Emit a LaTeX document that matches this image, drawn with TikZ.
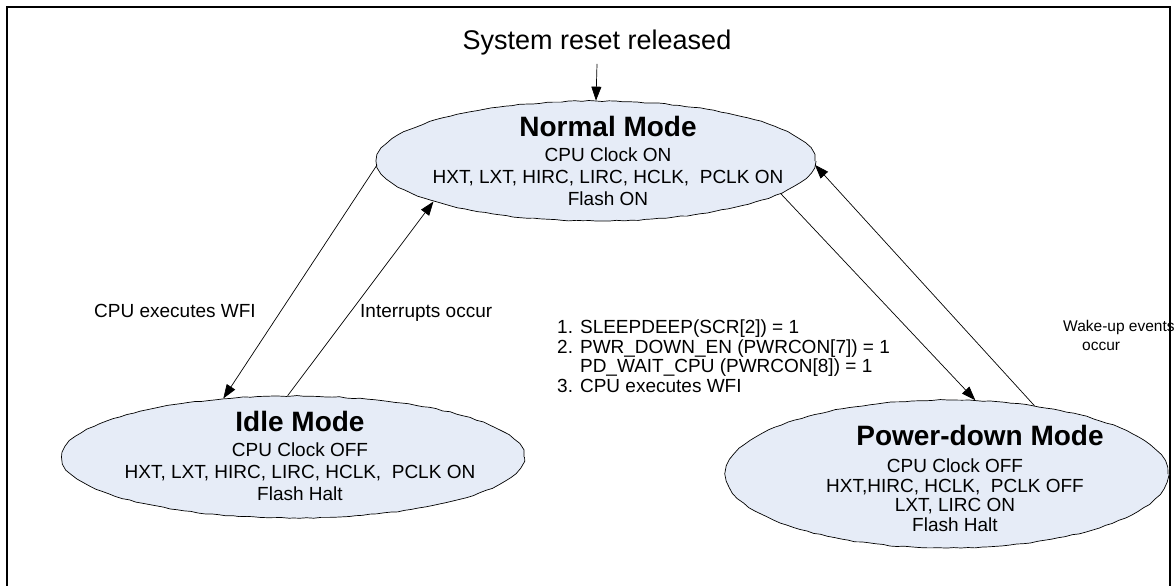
\documentclass[tikz,border=0pt]{standalone}
\usepackage{fontspec}
\setmainfont{Liberation Sans}
\usetikzlibrary{arrows.meta,shapes.geometric,decorations.pathmorphing}
\definecolor{ellfill}{RGB}{230,236,247}
\begin{document}
\begin{tikzpicture}[x=1pt,y=-1pt,
  modeell/.style={ellipse, draw=black, line width=0.7pt, fill=ellfill, inner sep=0pt,
    decorate, decoration={random steps,segment length=7pt,amplitude=0.5pt}},
  modetxt/.style={align=center, inner sep=0pt, font=\fontsize{19}{22}\selectfont},
  lbl/.style={inner sep=0pt, font=\fontsize{19}{19.5}\selectfont},
  conn/.style={line width=0.7pt, -{Triangle[length=14pt,width=10pt]}}
]
\pgfmathsetseed{7}
\useasboundingbox (0,0) rectangle (1175,586);
\draw[line width=2pt] (7,586) -- (7,7) -- (1170,7) -- (1170,586);

% ellipses
\node[modeell, minimum width=438pt, minimum height=120pt] (normal) at (596,161) {};
\node[modeell, minimum width=462pt, minimum height=122pt] (idle) at (293,457) {};
\node[modeell, minimum width=442pt, minimum height=148pt] (power) at (947,474) {};

% texts in ellipses
\node[modetxt, anchor=north] (normaltxt) at (608,116)
  {{\fontsize{28}{28}\selectfont\bfseries Normal Mode}\\[3pt]
   CPU Clock ON\\
   HXT, LXT, HIRC, LIRC, HCLK,\ \ PCLK ON\hspace*{40pt}\\
   Flash ON};
\node[modetxt, anchor=north] (idletxt) at (300,411)
  {{\fontsize{28}{28}\selectfont\bfseries Idle Mode}\\[3pt]
   CPU Clock OFF\\
   HXT, LXT, HIRC, LIRC, HCLK,\ \ PCLK ON\\
   Flash Halt};
\node[modetxt, anchor=north, font=\fontsize{19}{19.5}\selectfont] (powertxt) at (955,425)
  {\hspace*{50pt}{\fontsize{28}{28}\selectfont\bfseries Power-down Mode}\\[8pt]
   CPU Clock OFF\\
   HXT,HIRC, HCLK,\ \ PCLK OFF\\
   LXT, LIRC ON\\
   Flash Halt};

% top text
\node[inner sep=0pt, font=\fontsize{27}{27}\selectfont] (reset) at (597,43) {System reset released};

% connectors
\draw[conn] (reset.south) ++(0,8) coordinate (resetend) -- (normal.north);
\draw[conn] (normal.181) -- (idle.140);
\draw[conn] (idle.95) -- (normal.194);
\draw[conn] (normal.-10) -- (power.69);
\draw[conn] (power.38) -- (normal.-1);

% labels
\node[lbl, anchor=base west] (lblwfi) at (94,317) {CPU executes WFI};
\node[lbl, anchor=base west] (lblint) at (360,317) {Interrupts occur};
\node[lbl, anchor=north west, align=left] (lblpd) at (557,320)
  {1. SLEEPDEEP(SCR[2]) = 1\\
   2. PWR\_DOWN\_EN (PWRCON[7]) = 1\\
   \phantom{2. }PD\_WAIT\_CPU (PWRCON[8]) = 1\\
   3. CPU executes WFI};
\node[lbl, anchor=base west, align=left, font=\fontsize{15.5}{19}\selectfont] (lblwake) at (1063,350)
  {Wake-up events\\\hspace*{19pt}occur};
\end{tikzpicture}
\end{document}
